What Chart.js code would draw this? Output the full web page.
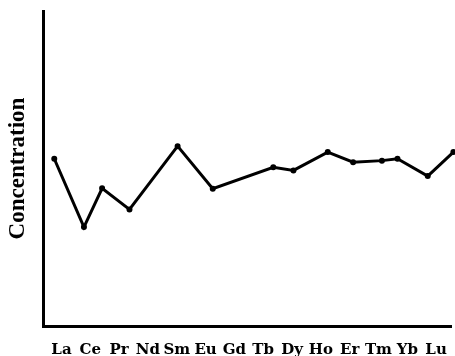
<!DOCTYPE html>
<html>
<head>
<meta charset="utf-8">
<script src="https://cdn.jsdelivr.net/npm/chart.js@4"></script>
<style>
  html, body { margin: 0; padding: 0; background: #fff; overflow: hidden; }
  #wrap { width: 455px; height: 356px; overflow: hidden; }
</style>
</head>
<body>
<div id="wrap"><canvas id="ree" width="462" height="374"></canvas></div>
<script>
const elements = ['La', 'Ce', 'Pr', 'Nd', 'Sm', 'Eu', 'Gd', 'Tb', 'Dy', 'Ho', 'Er', 'Tm', 'Yb', 'Lu'];

// sketch points sit a little off the element labels, so x is kept in label units
const pointX = [-0.25, 0.78, 1.41, 2.36, 4.03, 5.25, 7.35, 8.05, 9.24, 10.12, 11.12, 11.66, 12.71, 13.6];
const conc = [5.31, 3.14, 4.37, 3.70, 5.71, 4.36, 5.04, 4.94, 5.52, 5.20, 5.25, 5.31, 4.76, 5.52];

const points = pointX.map((x, i) => ({x: x, y: conc[i]}));

const ctx = document.getElementById('ree');

const reeChart = new Chart(ctx, {
type: 'line',
data: {
	datasets: [
		{
			label: 'Concentration',
			data: points,
			borderColor: '#000',
			backgroundColor: '#000',
			borderWidth: 3,
			pointRadius: 1.5,
			pointHoverRadius: 1.5,
			tension: 0,
			clip: false
		}
	]
},
options: {
	responsive: false,
	animation: false,
	layout: {
		padding: {top: 11, right: 0, bottom: 0, left: 4}
	},
	plugins: {
		legend: { display: false },
		tooltip: { enabled: false }
	},
	scales: {
		x: {
			type: 'linear',
			min: -0.62,
			max: 13.55,
			grid: { display: false, drawTicks: false },
			border: { display: true, width: 3, color: '#000' },
			afterBuildTicks: axis => {
				axis.ticks = elements.map((_, i) => ({value: i}));
			},
			ticks: {
				autoSkip: false,
				maxRotation: 0,
				padding: 15,
				color: '#000',
				font: { family: 'DejaVu Serif', size: 15, weight: 'bold' },
				callback: v => elements[v]
			}
		},
		y: {
			min: 0,
			max: 10,
			grid: { display: false, drawTicks: false },
			border: { display: true, width: 3, color: '#000' },
			ticks: { display: false },
			title: {
				display: true,
				text: 'Concentration',
				color: '#000',
				padding: {top: 0, bottom: 12},
				font: { family: 'Liberation Serif', size: 23, weight: 'bold' }
			}
		}
	}
}
});
</script>
</body>
</html>
